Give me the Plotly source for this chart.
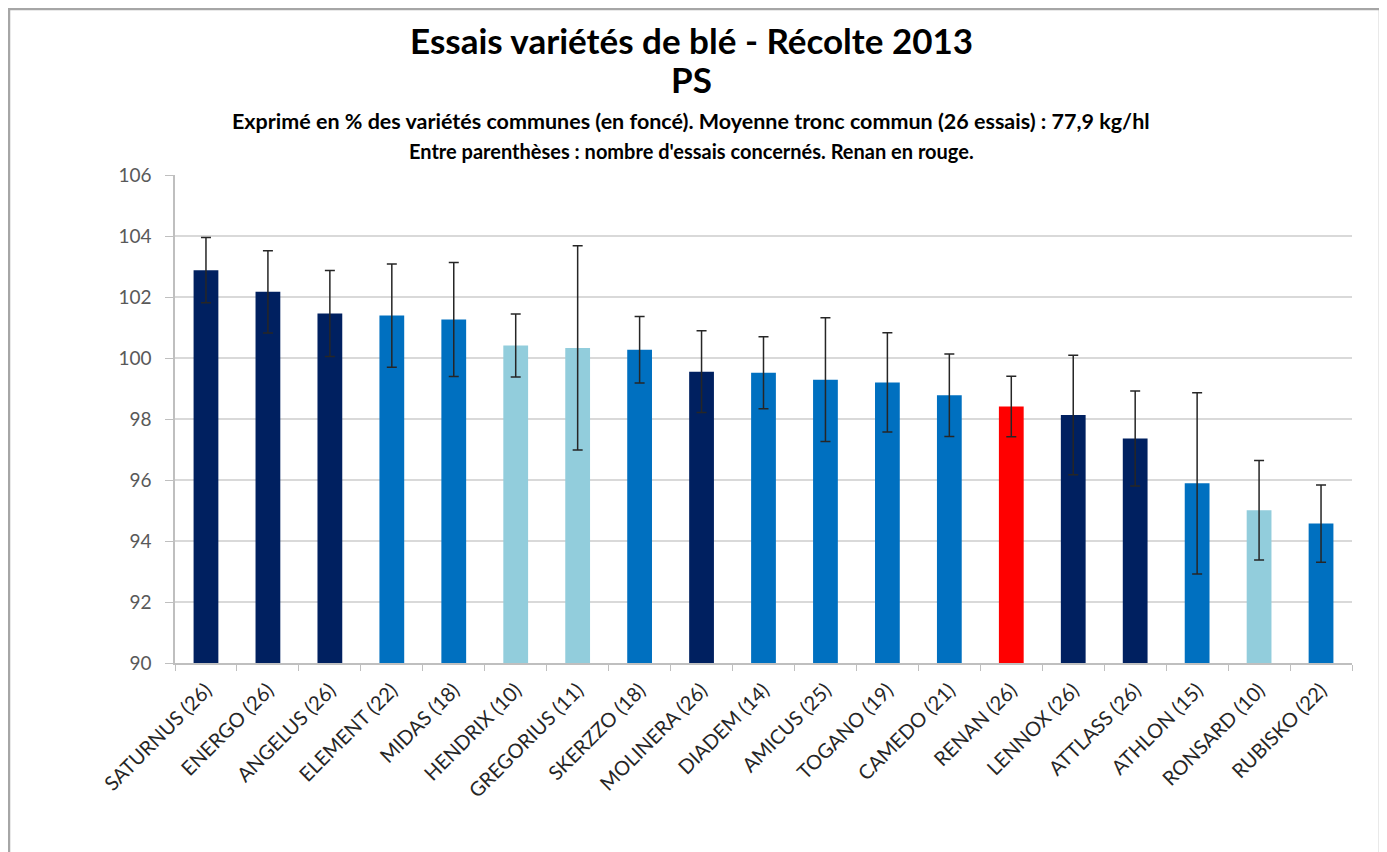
import plotly.graph_objects as go

varieties = ["SATURNUS (26)", "ENERGO (26)", "ANGELUS (26)", "ELEMENT (22)", "MIDAS (18)",
             "HENDRIX (10)", "GREGORIUS (11)", "SKERZZO (18)", "MOLINERA (26)", "DIADEM (14)",
             "AMICUS (25)", "TOGANO (19)", "CAMEDO (21)", "RENAN (26)", "LENNOX (26)",
             "ATTLASS (26)", "ATHLON (15)", "RONSARD (10)", "RUBISKO (22)"]
ps_values = [102.88, 102.17, 101.46, 101.39, 101.26, 100.41, 100.33, 100.27, 99.55, 99.52,
             99.29, 99.20, 98.78, 98.41, 98.13, 97.36, 95.89, 95.01, 94.57]
ps_errors = [1.07, 1.35, 1.41, 1.69, 1.87, 1.03, 3.35, 1.09, 1.34, 1.18,
             2.03, 1.63, 1.35, 0.99, 1.96, 1.56, 2.97, 1.63, 1.27]
groups = ["commun", "commun", "commun", "autre", "autre",
          "nouveau", "nouveau", "autre", "commun", "autre",
          "autre", "autre", "autre", "renan", "commun",
          "commun", "autre", "nouveau", "autre"]

palette = {"commun": "#002060", "autre": "#0070C0", "nouveau": "#92CDDC", "renan": "#FF0000"}
colors = [palette[g] for g in groups]

fig = go.Figure()
fig.add_trace(go.Bar(
    x=varieties, y=ps_values,
    marker=dict(color=colors, line=dict(width=0)),
    error_y=dict(type="data", array=ps_errors, visible=True,
                 color="#262626", thickness=1.5, width=5),
    showlegend=False,
))

OFF = 8  # page body margin
W, H = 1387 - OFF, 852 - OFF
L, T = 175 - OFF, 175 - OFF
R = W - (1352 - OFF)
B = H - (663 - OFF)
pw, ph = W - L - R, H - T - B

def px(x):
    return (x - OFF - L) / pw

def py(y):
    return (H - B - (y - OFF)) / ph

font_main = "Lato, 'Open Sans', sans-serif"

fig.update_layout(
    width=W, height=H,
    margin=dict(l=L, r=R, t=T, b=B, autoexpand=False),
    paper_bgcolor="white", plot_bgcolor="white",
    bargap=0.6,
    font=dict(family=font_main, color="#404040"),
    xaxis=dict(
        type="category", tickangle=-45, tickfont=dict(size=20, color="#262626"),
        showline=True, linecolor="#BFBFBF", linewidth=1.5,
        ticks="outside", tickson="boundaries", ticklen=6, tickcolor="#BFBFBF",
        ticklabelstandoff=6,
        showgrid=False, range=[-0.5, len(varieties) - 0.5],
    ),
    yaxis=dict(
        range=[90, 106], dtick=2, tick0=90,
        tickfont=dict(size=19, color="#595959"),
        showgrid=True, gridcolor="#D9D9D9", gridwidth=1.5,
        showline=True, linecolor="#BFBFBF", linewidth=1.5,
        ticks="outside", ticklen=8, tickcolor="#BFBFBF",
        ticklabelstandoff=10, zeroline=False,
    ),
)

annots = [
    ("Essais variétés de blé - Récolte 2013", 40, 35),
    ("PS", 79, 35),
    ("Exprimé en % des variétés communes (en foncé). Moyenne tronc commun (26 essais) : 77,9 kg/hl", 121, 21.5),
    ("Entre parenthèses : nombre d'essais concernés. Renan en rouge.", 151, 20),
]
for text, ypix, size in annots:
    fig.add_annotation(text="<b>" + text + "</b>", xref="paper", yref="paper",
                       x=px(691), y=py(ypix), xanchor="center", yanchor="middle",
                       showarrow=False, font=dict(size=size, color="#000000", family=font_main))

fig.add_shape(type="rect", xref="paper", yref="paper",
              x0=px(9), x1=px(1380), y0=py(870), y1=py(9),
              line=dict(color="#A6A6A6", width=2.5), fillcolor="rgba(0,0,0,0)", layer="below")

fig.write_html("out.html")
